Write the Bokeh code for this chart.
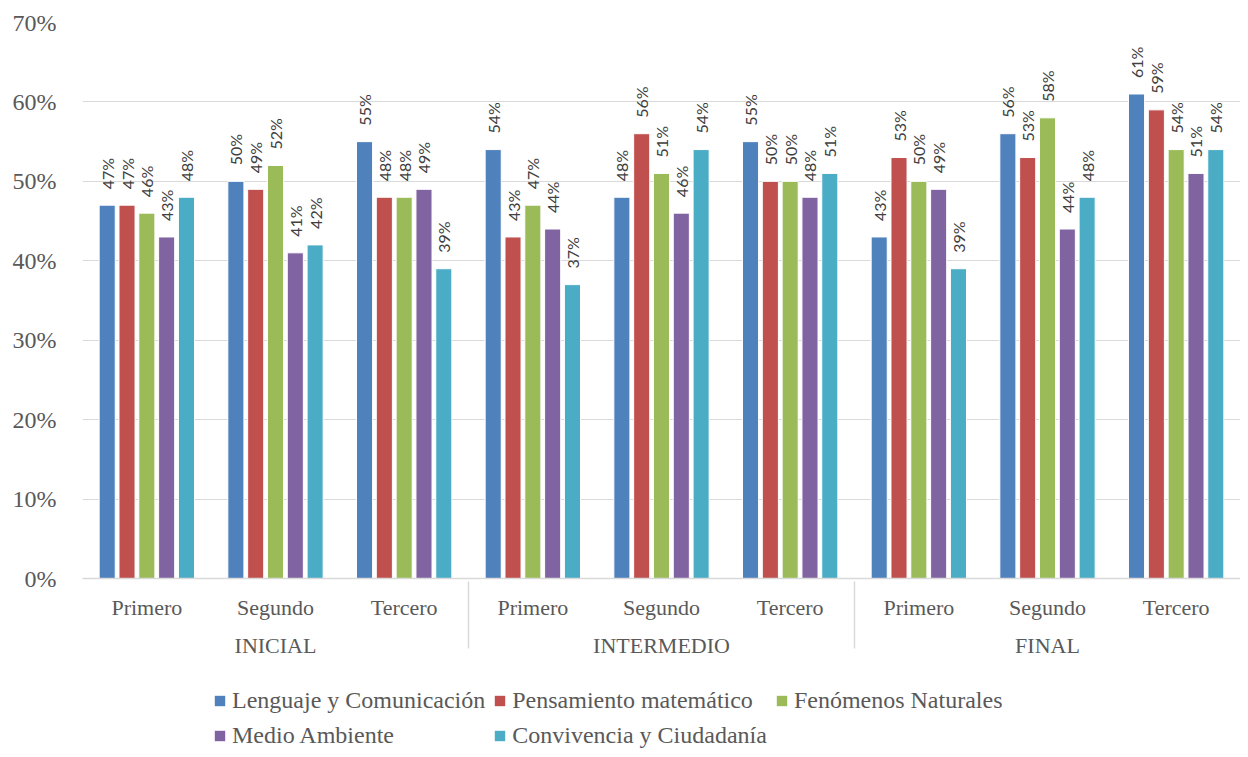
import math
from bokeh.plotting import figure
from bokeh.layouts import column
from bokeh.models import (FactorRange, ColumnDataSource, FixedTicker,
                          NumeralTickFormatter, Legend, LegendItem)
from bokeh.transform import dodge
from bokeh.core.properties import value
from bokeh.embed import file_html
from bokeh.resources import INLINE

# ---------------- data ----------------
levels = ["INICIAL", "INTERMEDIO", "FINAL"]
grades = ["Primero", "Segundo", "Tercero"]
series_names = ["Lenguaje y Comunicación", "Pensamiento matemático",
                "Fenómenos Naturales", "Medio Ambiente", "Convivencia y Ciudadanía"]
lenguaje = [47, 50, 55, 54, 48, 55, 43, 56, 61]
pensamiento = [47, 49, 48, 43, 56, 50, 53, 53, 59]
fenomenos = [46, 52, 48, 47, 51, 50, 50, 58, 54]
medio = [43, 41, 49, 44, 46, 48, 49, 44, 51]
convivencia = [48, 42, 39, 37, 54, 51, 39, 48, 54]
y_ticks = [0.0, 0.1, 0.2, 0.3, 0.4, 0.5, 0.6, 0.7]

colors = ["#4F81BD", "#C0504D", "#9BBB59", "#8064A2", "#4BACC6"]
all_series = [lenguaje, pensamiento, fenomenos, medio, convivencia]

factors = [(lv, g) for lv in levels for g in grades]

SERIF = "Liberation Serif"
TXT = "#595959"
GRID = "#D9D9D9"

W = 1240
H_MAIN = 672
H_LEG = 77

p = figure(x_range=FactorRange(*factors, factor_padding=0, group_padding=0,
                               subgroup_padding=0, range_padding=0),
           y_range=(0, 0.7), width=W, height=H_MAIN,
           output_backend="svg", toolbar_location=None,
           min_border_left=82, min_border_right=0, min_border_top=22,
           min_border_bottom=H_MAIN - 578)

# legend-only figure (bars placed out of its visible y-range)
p2 = figure(x_range=FactorRange(*factors), y_range=(10, 11), width=W,
            height=H_LEG, output_backend="svg", toolbar_location=None,
            x_axis_location=None, y_axis_location=None, min_border=0)
p2.grid.grid_line_color = None
p2.outline_line_color = None

step = 0.154
bw = 0.125
offsets = [-2 * step, -step, 0, step, 2 * step]

items = []
for name, vals, col, off in zip(series_names, all_series, colors, offsets):
    src = ColumnDataSource(dict(x=factors, y=[v / 100 for v in vals],
                                lab=[f"{v}%" for v in vals]))
    p.vbar(x=dodge("x", off, range=p.x_range), top="y", width=bw,
           source=src, fill_color=col, line_color="white", line_width=1)
    p.text(x=dodge("x", off, range=p.x_range), y="y", text="lab", source=src,
           angle=math.pi / 2, text_align="left", text_baseline="middle",
           text_font=value("Lato"), text_font_size="16px",
           text_color="#404040", y_offset=-16)
    r2 = p2.vbar(x="x", top="y", width=bw, source=src, fill_color=col,
                 line_color=col, line_width=0)
    items.append(LegendItem(label=name, renderers=[r2]))

legend = Legend(items=items, location=(131, 0), orientation="horizontal",
                ncols=3, glyph_width=13, glyph_height=13, label_standoff=6,
                spacing=8, label_height=26, padding=0, margin=0,
                border_line_alpha=0, background_fill_alpha=0,
                label_text_font=SERIF, label_text_font_size="24px",
                label_text_color=TXT)
p2.add_layout(legend)

# y axis
p.yaxis.ticker = FixedTicker(ticks=y_ticks)
p.yaxis.formatter = NumeralTickFormatter(format="0%")
p.yaxis.axis_line_color = None
p.yaxis.major_tick_line_color = None
p.yaxis.minor_tick_line_color = None
p.yaxis.major_label_standoff = 20
p.yaxis.major_label_text_font = SERIF
p.yaxis.major_label_text_font_size = "24px"
p.yaxis.major_label_text_color = TXT

# x axis
p.xaxis.axis_line_color = GRID
p.xaxis.axis_line_width = 1.5
p.xaxis.major_tick_line_color = None
p.xaxis.minor_tick_line_color = None
p.xaxis.major_label_standoff = 10
p.xaxis.major_label_text_font = SERIF
p.xaxis.major_label_text_font_size = "22px"
p.xaxis.major_label_text_color = TXT
p.xaxis.group_text_font = SERIF
p.xaxis.group_text_font_size = "22px"
p.xaxis.group_text_color = TXT
p.xaxis.group_text_font_style = "normal"
p.xaxis.separator_line_color = GRID
p.xaxis.separator_line_width = 1.5

p.ygrid.ticker = FixedTicker(ticks=y_ticks)
p.ygrid.grid_line_color = GRID
p.ygrid.grid_line_width = 1.2
p.xgrid.grid_line_color = None
p.outline_line_color = None

layout = column(p, p2, spacing=0)
open("out.html", "w").write(file_html(layout, INLINE))
